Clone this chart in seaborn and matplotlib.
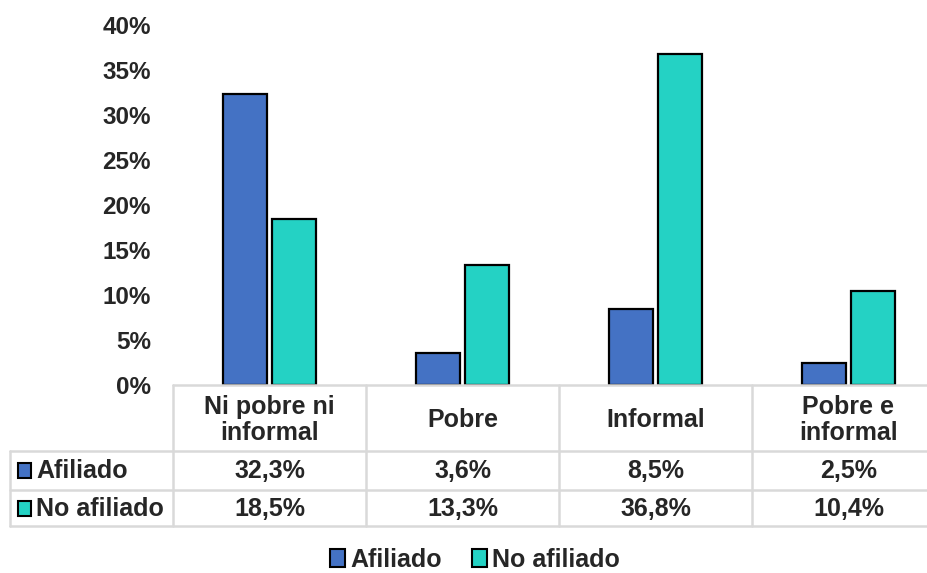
import matplotlib
matplotlib.use("Agg")
import matplotlib.pyplot as plt
from matplotlib.patches import Rectangle
from matplotlib.lines import Line2D
import seaborn as sns
import pandas as pd

categorias = ["Ni pobre ni\ninformal", "Pobre", "Informal", "Pobre e\ninformal"]
series = ["Afiliado", "No afiliado"]
afiliado = [32.3, 3.6, 8.5, 2.5]
no_afiliado = [18.5, 13.3, 36.8, 10.4]
colores = ["#4472C4", "#24D2C4"]
yticks = [0, 5, 10, 15, 20, 25, 30, 35, 40]

df = pd.DataFrame({
    "categoria": categorias * 2,
    "serie": [series[0]] * 4 + [series[1]] * 4,
    "valor": afiliado + no_afiliado,
})

sns.set_theme(style="white")
plt.rcParams["font.family"] = ["Liberation Sans", "DejaVu Sans"]

W, H = 928, 573
fig = plt.figure(figsize=(W / 100, H / 100), dpi=100)

def fx(px):
    return px / W

def fy(py):
    return 1 - py / H

col_w = 193
x0, y0, ytop = 173, 385, 25
ax = fig.add_axes([fx(x0), fy(y0), fx(4 * col_w), (y0 - ytop) / H])

sns.barplot(data=df, x="categoria", y="valor", hue="serie", order=categorias,
            hue_order=series, palette=colores, saturation=1, width=0.51, gap=0.1,
            edgecolor="black", linewidth=1.6, ax=ax, legend=False)

ax.set_xlim(-0.5, 3.5)
ax.set_ylim(0, 40)
ax.set_yticks(yticks)
ax.set_yticklabels([f"{v}%" for v in yticks], fontsize=17.5, fontweight="bold")
ax.tick_params(axis="y", length=0, pad=16)
ax.set_xticks([])
ax.set_xlabel("")
ax.set_ylabel("")
for s in ax.spines.values():
    s.set_visible(False)

# data table under the plot
grid = "#d9d9d9"
lw = 1.8
fs = 18
right_px = x0 + 4 * col_w
row_y = [385, 451, 490, 526]

def hline(y, xa, xb):
    fig.add_artist(Line2D([fx(xa), fx(xb)], [fy(y), fy(y)], color=grid, lw=lw))

def vline(x, ya, yb):
    fig.add_artist(Line2D([fx(x), fx(x)], [fy(ya), fy(yb)], color=grid, lw=lw))

hline(row_y[0], x0, right_px)
for y in row_y[1:]:
    hline(y, 10, right_px)
for i in range(5):
    vline(x0 + i * col_w, row_y[0], row_y[3])
vline(10, row_y[1], row_y[3])

for i, cat in enumerate(categorias):
    cx = fx(x0 + (i + 0.5) * col_w)
    fig.text(cx, fy((row_y[0] + row_y[1]) / 2 + 2), cat, ha="center", va="center",
             fontsize=fs, fontweight="bold", linespacing=1.08)
    fig.text(cx, fy((row_y[1] + row_y[2]) / 2 + 1), f"{afiliado[i]:.1f}%".replace(".", ","),
             ha="center", va="center", fontsize=fs, fontweight="bold")
    fig.text(cx, fy((row_y[2] + row_y[3]) / 2 + 1), f"{no_afiliado[i]:.1f}%".replace(".", ","),
             ha="center", va="center", fontsize=fs, fontweight="bold")

for j, (name, col) in enumerate(zip(series, colores)):
    yc = (row_y[j + 1] + row_y[j + 2]) / 2
    fig.add_artist(Rectangle((fx(18), fy(yc + 7.5)), 13 / W, 15 / H, facecolor=col,
                             edgecolor="black", lw=1.5, transform=fig.transFigure))
    fig.text(fx(36), fy(yc + 1), name, ha="left", va="center",
             fontsize=fs, fontweight="bold")

handles = [Rectangle((0, 0), 1, 1, facecolor=c, edgecolor="black", lw=1.5) for c in colores]
fig.legend(handles, series, loc="center", bbox_to_anchor=(fx(475), fy(560)), ncol=2,
           frameon=False, handlelength=0.6, handleheight=0.75, handletextpad=0.2,
           columnspacing=1.2, borderpad=0.1, prop={"weight": "bold", "size": fs})

fig.savefig("out.png", dpi=100)
